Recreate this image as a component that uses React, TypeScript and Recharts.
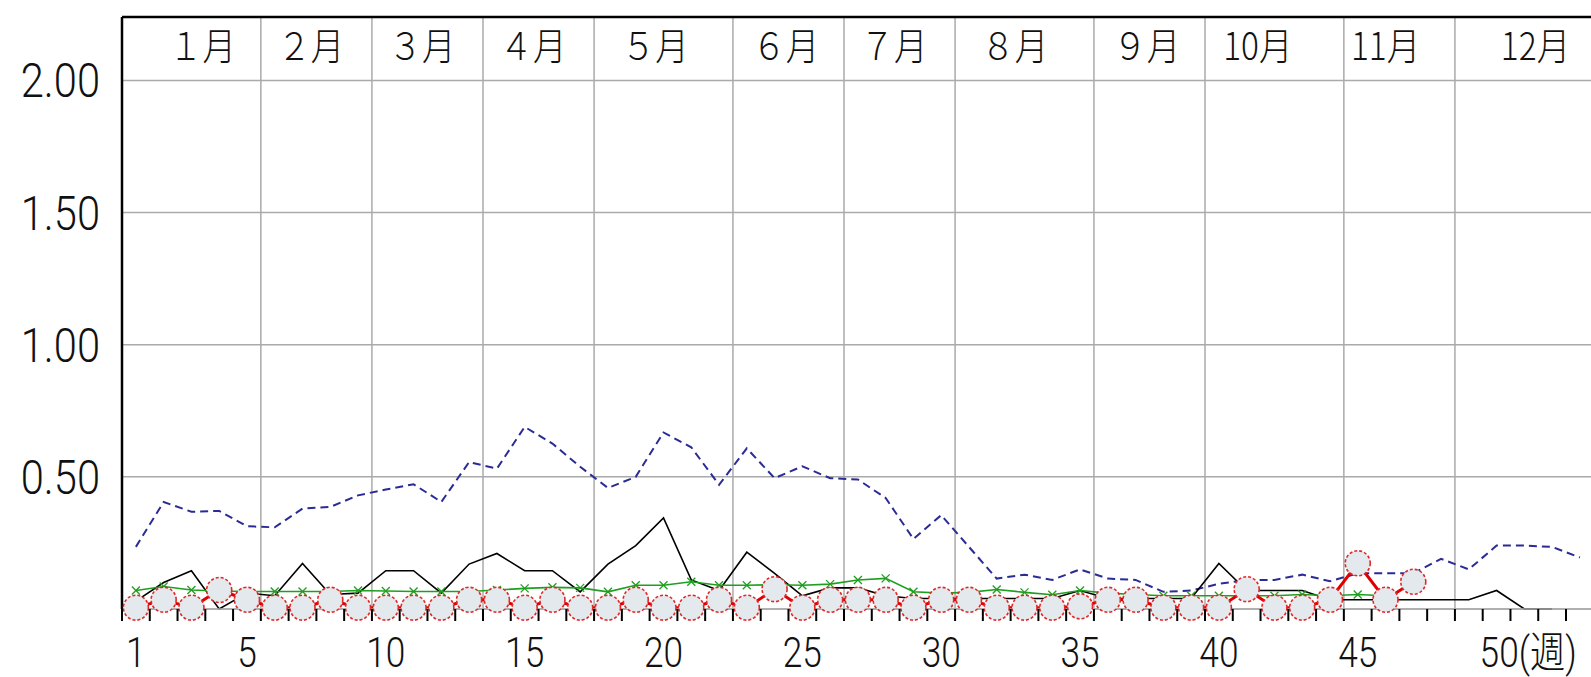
import React from 'react';
import { LineChart, Line, XAxis, YAxis, CartesianGrid, ReferenceLine } from 'recharts';

// week numbers (categories)
const weeks = [
  1, 2, 3, 4, 5, 6, 7, 8, 9, 10, 11, 12, 13, 14, 15, 16, 17, 18, 19, 20, 21, 22, 23, 24, 25, 26,
  27, 28, 29, 30, 31, 32, 33, 34, 35, 36, 37, 38, 39, 40, 41, 42, 43, 44, 45, 46, 47, 48, 49, 50, 51, 52, 53,
];

// blue dashed series (weeks 1-53)
const blueSeries = [
  0.235, 0.405, 0.368, 0.371, 0.313, 0.309, 0.38, 0.386, 0.43, 0.452, 0.472, 0.405, 0.556,
  0.531, 0.689, 0.626, 0.538, 0.458, 0.5, 0.668, 0.612, 0.47, 0.608, 0.495, 0.54, 0.495,
  0.49, 0.42, 0.265, 0.355, 0.235, 0.115, 0.13, 0.11, 0.15, 0.115, 0.11, 0.065, 0.07,
  0.095, 0.11, 0.11, 0.13, 0.105, 0.135, 0.135, 0.135, 0.19, 0.15, 0.24, 0.24, 0.235, 0.195,
];

// black solid series (weeks 1-52)
const blackSeries = [
  0.03, 0.1, 0.145, 0.0, 0.06, 0.05, 0.172, 0.055, 0.06, 0.145, 0.145, 0.06, 0.17,
  0.21, 0.145, 0.145, 0.065, 0.17, 0.24, 0.345, 0.11, 0.07, 0.215, 0.135, 0.05, 0.08,
  0.08, 0.05, 0.04, 0.04, 0.04, 0.04, 0.04, 0.04, 0.07, 0.04, 0.04, 0.04, 0.04,
  0.172, 0.07, 0.07, 0.07, 0.035, 0.035, 0.035, 0.035, 0.035, 0.035, 0.07, 0.0, 0.0,
];

// green series with x markers (weeks 1-46)
const greenSeries = [
  0.07, 0.085, 0.072, 0.068, 0.066, 0.066, 0.066, 0.066, 0.07, 0.068, 0.066, 0.066, 0.066,
  0.072, 0.078, 0.082, 0.08, 0.065, 0.09, 0.09, 0.103, 0.09, 0.09, 0.092, 0.09, 0.094,
  0.11, 0.116, 0.065, 0.06, 0.063, 0.074, 0.063, 0.054, 0.07, 0.06, 0.055, 0.05, 0.05,
  0.05, 0.05, 0.05, 0.055, 0.05, 0.055, 0.05,
];

// red series with circle markers (weeks 1-47)
const redSeries = [
  0.005, 0.035, 0.005, 0.072, 0.035, 0.005, 0.005, 0.035, 0.005, 0.005, 0.005, 0.005, 0.035,
  0.035, 0.005, 0.035, 0.005, 0.005, 0.035, 0.005, 0.005, 0.035, 0.005, 0.075, 0.005, 0.035,
  0.035, 0.035, 0.005, 0.035, 0.035, 0.005, 0.005, 0.005, 0.01, 0.035, 0.035, 0.005, 0.005,
  0.005, 0.075, 0.005, 0.005, 0.035, 0.173, 0.035, 0.103,
];

const monthNames = ['１月', '２月', '３月', '４月', '５月', '６月', '７月', '８月', '９月', '10月', '11月', '12月'];
const monthLabelWeeks = [3.4, 7.3, 11.3, 15.3, 19.7, 24.4, 28.3, 32.65, 37.4, 41.4, 46.0, 51.4];
const monthBoundaries = [5.5, 9.5, 13.5, 17.5, 22.5, 26.5, 30.5, 35.5, 39.5, 44.5, 48.5];
const weekBoundaries = [
  0.5, 1.5, 2.5, 3.5, 4.5, 5.5, 6.5, 7.5, 8.5, 9.5, 10.5, 11.5, 12.5, 13.5, 14.5, 15.5, 16.5, 17.5,
  18.5, 19.5, 20.5, 21.5, 22.5, 23.5, 24.5, 25.5, 26.5, 27.5, 28.5, 29.5, 30.5, 31.5, 32.5, 33.5,
  34.5, 35.5, 36.5, 37.5, 38.5, 39.5, 40.5, 41.5, 42.5, 43.5, 44.5, 45.5, 46.5, 47.5, 48.5, 49.5,
  50.5, 51.5, 52.5,
];
const weekLabelTicks = [1, 5, 10, 15, 20, 25, 30, 35, 40, 45, 50];
const yTicks = [0.5, 1, 1.5, 2];
const yTickLabels = ['0.50', '1.00', '1.50', '2.00'];

const data = weeks.map((w, i) => ({
  week: w,
  blue: blueSeries[i],
  black: blackSeries[i],
  green: greenSeries[i],
  red: redSeries[i],
}));

const bottomTicks = [...weekBoundaries, ...weekLabelTicks].sort((a, b) => a - b);

const DIGIT_FONT = "Roboto, 'Liberation Sans', 'Noto Sans CJK JP', sans-serif";
const CJK_FONT = "'Noto Sans CJK JP', 'Noto Sans CJK SC', sans-serif";

const BottomTick = (props: any) => {
  const { x, y, payload } = props;
  const v = payload.value as number;
  if (v % 1 !== 0) {
    return <line x1={x} x2={x} y1={y} y2={y + 12} stroke="#000" strokeWidth={2} />;
  }
  const is50 = v === 50;
  return (
    <text
      transform={`translate(${is50 ? x - 17 : x},${y + 58}) scale(0.84,1)`}
      textAnchor={is50 ? 'start' : 'middle'}
      fontFamily={DIGIT_FONT}
      fontWeight={300}
      fontSize={42}
      fill="#111"
    >
      {is50 ? '50(週)' : String(v)}
    </text>
  );
};

const LeftTick = (props: any) => {
  const { y, payload } = props;
  const idx = yTicks.indexOf(payload.value);
  return (
    <text
      transform={`translate(100,${y + 17}) scale(0.85,1)`}
      textAnchor="end"
      fontFamily={DIGIT_FONT}
      fontWeight={300}
      fontSize={49}
      fill="#111"
    >
      {idx >= 0 ? yTickLabels[idx] : ''}
    </text>
  );
};

const MonthTick = (props: any) => {
  const { x, y, payload } = props;
  const idx = monthLabelWeeks.indexOf(payload.value);
  return (
    <text
      transform={`translate(${x},${y + 43}) scale(0.88,1)`}
      textAnchor="middle"
      fontFamily={CJK_FONT}
      fontWeight={300}
      fontSize={38}
      fill="#111"
    >
      {idx >= 0 ? monthNames[idx] : ''}
    </text>
  );
};

const GreenDot = (props: any) => {
  const { cx, cy } = props;
  if (cx == null || cy == null || props.value == null) return <g />;
  const s = 4;
  return (
    <g stroke="#1f9f1f" strokeWidth={1.3}>
      <line x1={cx - s} y1={cy - s} x2={cx + s} y2={cy + s} />
      <line x1={cx - s} y1={cy + s} x2={cx + s} y2={cy - s} />
    </g>
  );
};

const RedDot = (props: any) => {
  const { cx, cy } = props;
  if (cx == null || cy == null || props.value == null) return <g />;
  return (
    <circle
      cx={cx}
      cy={cy}
      r={12.5}
      fill="#e3e9ec"
      stroke="#e02828"
      strokeWidth={1.6}
      strokeDasharray="3 2"
    />
  );
};

export default function App() {
  return (
    <div
      style={{
        position: 'absolute',
        left: 0,
        top: 0,
        width: 1591,
        height: 677,
        background: '#fff',
        overflow: 'hidden',
      }}
    >
      <LineChart
        width={1591}
        height={677}
        data={data}
        margin={{ top: 16, right: 0, bottom: 0, left: 0 }}
      >
        <CartesianGrid
          xAxisId="week"
          yAxisId="val"
          vertical={false}
          stroke="#aaaaaa"
          strokeWidth={1.5}
        />
        <XAxis
          xAxisId="top"
          orientation="top"
          type="number"
          dataKey="week"
          domain={[0.5, 53.4]}
          ticks={monthLabelWeeks}
          interval={0}
          height={1}
          tickSize={0}
          tickMargin={0}
          tickLine={false}
          axisLine={{ stroke: '#000', strokeWidth: 2.5 }}
          tick={(p: any) => <MonthTick {...p} />}
        />
        <XAxis
          xAxisId="week"
          orientation="bottom"
          type="number"
          dataKey="week"
          domain={[0.5, 53.4]}
          ticks={bottomTicks}
          interval={0}
          height={68}
          tickSize={0}
          tickMargin={0}
          tickLine={false}
          axisLine={{ stroke: '#aaaaaa', strokeWidth: 1.5 }}
          tick={(p: any) => <BottomTick {...p} />}
        />
        <YAxis
          yAxisId="val"
          type="number"
          domain={[0, 2.24]}
          ticks={yTicks}
          interval={0}
          width={122}
          tickSize={0}
          tickMargin={0}
          tickLine={false}
          axisLine={{ stroke: '#000', strokeWidth: 2.5 }}
          tick={(p: any) => <LeftTick {...p} />}
        />
        {monthBoundaries.map((b) => (
          <ReferenceLine
            key={b}
            xAxisId="week"
            yAxisId="val"
            x={b}
            stroke="#aaaaaa"
            strokeWidth={1.5}
          />
        ))}
        <Line
          xAxisId="week"
          yAxisId="val"
          type="linear"
          dataKey="blue"
          stroke="#2b2b96"
          strokeWidth={2}
          strokeDasharray="8 5"
          dot={false}
          activeDot={false}
          isAnimationActive={false}
        />
        <Line
          xAxisId="week"
          yAxisId="val"
          type="linear"
          dataKey="black"
          stroke="#000"
          strokeWidth={1.6}
          dot={false}
          activeDot={false}
          isAnimationActive={false}
        />
        <Line
          xAxisId="week"
          yAxisId="val"
          type="linear"
          dataKey="green"
          stroke="#1f9f1f"
          strokeWidth={1.6}
          dot={<GreenDot />}
          activeDot={false}
          isAnimationActive={false}
        />
        <Line
          xAxisId="week"
          yAxisId="val"
          type="linear"
          dataKey="red"
          stroke="#e00000"
          strokeWidth={3}
          dot={<RedDot />}
          activeDot={false}
          isAnimationActive={false}
        />
      </LineChart>
    </div>
  );
}
